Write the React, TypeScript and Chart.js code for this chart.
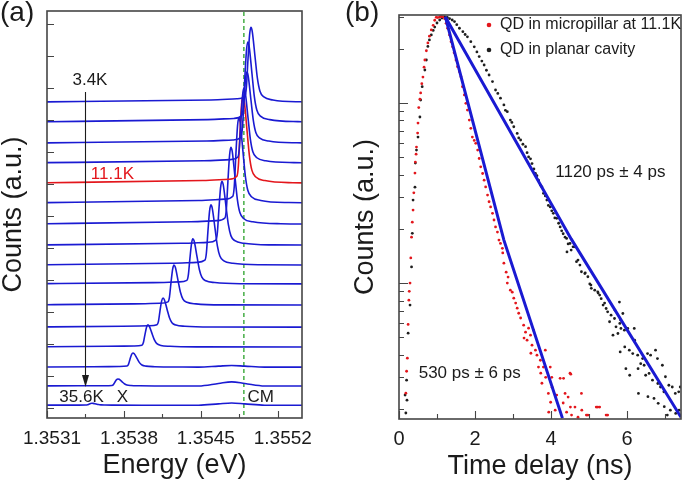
import React, { useEffect, useRef } from 'react';
import { Chart, registerables } from 'chart.js';

Chart.register(...registerables);

const FONT = "'Liberation Sans', Arial, Helvetica, sans-serif";
const INK = '#1b1b1b';
const FRAME = '#454545';
const BLUE = '#1a1ad2';
const RED = '#e3161c';
const GREEN = '#45ad45';

/* ---------------- Panel (a): PL spectra ---------------- */
const energyMin = 1.3531;
const energyMax = 1.35542;
const energyLabelValues = [1.3531, 1.3538, 1.3545, 1.3552];
const energyLabels = ['1.3531', '1.3538', '1.3545', '1.3552'];
const energyTickValues = [1.3531, 1.35345, 1.3538, 1.35415, 1.3545, 1.35485, 1.3552];
const levelTickValues = [0, 1, 2, 3, 4, 5, 6, 7, 8, 9, 10, 11, 12];
const levelMin = -0.31;
const levelMax = 12.41;
const cavityModeEnergy = 1.354891;
const cavityBumpCenter = 1.35478;

const spectrumBaselines = [9.56, 8.94, 8.28, 7.66, 7.03, 6.41, 5.75, 5.09, 4.47, 3.88, 3.22, 2.53, 1.91, 1.28, 0.69, 0.09];
const spectrumPeakEnergies = [
  1.354955, 1.354927, 1.354918, 1.354891, 1.354882, 1.354845, 1.354773, 1.354691,
  1.354591, 1.354427, 1.354255, 1.354155, 1.354018, 1.353882, 1.353745, 1.353509,
];
const spectrumPeakHeights = [2.34, 2.5, 2.22, 2.34, 2.72, 2.66, 2.4, 2.0, 1.88, 1.41, 1.25, 0.91, 0.69, 0.44, 0.22, 0.06];
const spectrumCavityBumps = [0, 0, 0, 0, 0, 0, 0, 0, 0, 0, 0, 0, 0, 0.05, 0.13, 0.07];
const highlightedSpectrum = 4; // 11.1 K

// line shape of one QD line (offset in eV, fraction of peak)
const peakShapeOffsets = [-0.000364, -0.000127, -0.0000545, -0.0000409, -0.0000273, -0.0000118, 0, 0.0000118, 0.0000382, 0.0000591, 0.0000818, 0.000118, 0.0002, 0.000455];
const peakShapeLevels = [0.03, 0.045, 0.08, 0.2, 0.55, 0.9, 1, 0.95, 0.6, 0.32, 0.15, 0.07, 0.03, 0.005];
const cavityShapeOffsets = [-0.0003, -0.00012, 0, 0.00012, 0.0003];
const cavityShapeLevels = [0, 0.6, 1, 0.6, 0];

const annotationTextsA = ['3.4K', '11.1K', '35.6K', 'X', 'CM'];
const annotationEnergiesA = [1.353491, 1.353695, 1.353414, 1.353786, 1.355045];
const annotationLevelsA = [10.23, 7.31, 0.33, 0.33, 0.33];
const annotationColorsA = [INK, RED, INK, INK, INK];
const arrowEnergy = 1.35345;
const arrowFrom = 9.875;
const arrowTo = 0.656;

/* ---------------- Panel (b): time-resolved PL ---------------- */
const timeMin = 0;
const timeMax = 7.42;
const countsMin = 176;
const countsMax = 30800;
const timeTickValues = [0, 1, 2, 3, 4, 5, 6, 7];
const timeLabelValues = [0, 2, 4, 6];
const timeLabels = ['0', '2', '4', '6'];
const logMajorTicks = [1000, 10000];
const logMinorTicks = [200, 300, 400, 500, 600, 700, 800, 900, 2000, 3000, 4000, 5000, 6000, 7000, 8000, 9000, 20000, 30000];

const pillarDecay: [number, number][] = [
  [0.18, 245], [0.2, 324], [0.22, 383], [0.24, 590], [0.26, 804], [0.27, 900], [0.29, 1000], [0.31, 1380],
  [0.33, 1800], [0.35, 2180], [0.37, 2545], [0.39, 3170], [0.42, 4080], [0.43, 4700], [0.45, 5200], [0.46, 5690],
  [0.49, 6810], [0.5, 7740], [0.52, 9430], [0.55, 10500], [0.57, 11370], [0.6, 12800], [0.63, 13930], [0.66, 15800],
  [0.68, 17330], [0.72, 19500], [0.76, 21550], [0.8, 23500], [0.85, 25450], [0.9, 27000], [0.94, 28800], [0.98, 29900],
  [1.02, 29800], [1.07, 30060], [1.11, 30200], [1.15, 30100], [1.2, 29400], [1.24, 27700], [1.28, 26000], [1.33, 23870],
  [1.37, 21900], [1.41, 20500], [1.45, 19000], [1.5, 17330], [1.54, 15900], [1.59, 14930], [1.63, 13990], [1.67, 12320],
  [1.72, 11080], [1.76, 9960], [1.8, 9140], [1.85, 8040], [1.89, 7230], [1.93, 6470], [1.98, 6200], [2.02, 5970],
  [2.07, 5480], [2.11, 4920], [2.15, 4420], [2.2, 4060], [2.24, 3730], [2.28, 3420], [2.33, 3080], [2.37, 2830],
  [2.41, 2650], [2.46, 2440], [2.5, 2240], [2.54, 2050], [2.59, 1920], [2.63, 1733], [2.67, 1660], [2.72, 1560],
  [2.73, 1470], [2.76, 1290], [2.82, 1150], [2.85, 1000], [2.87, 1080], [2.93, 914], [2.98, 890], [3.02, 825],
  [3.07, 775], [3.11, 726], [3.15, 680], [3.2, 640], [3.28, 584], [3.29, 495], [3.33, 534], [3.37, 482],
  [3.41, 562], [3.46, 514], [3.47, 408], [3.5, 452], [3.54, 548], [3.59, 424], [3.63, 398], [3.67, 342],
  [3.72, 373], [3.73, 316], [3.76, 278], [3.8, 342], [3.85, 424], [3.86, 300], [3.93, 244], [3.94, 192],
  [3.98, 342], [3.99, 218], [4.02, 300], [4.03, 264], [4.11, 197], [4.15, 239], [4.24, 296], [4.32, 216],
  [4.33, 296], [4.37, 244], [4.41, 192], [4.45, 233], [4.5, 316], [4.51, 205], [4.52, 312], [4.54, 185],
  [4.63, 205], [4.71, 180], [4.8, 244], [4.81, 197], [4.93, 185], [4.97, 185], [5.19, 205], [5.23, 205],
  [5.28, 205], [5.45, 185], [5.49, 185],
];

const planarDecay: [number, number][] = [
  [0.16, 239], [0.18, 190], [0.2, 289], [0.21, 224], [0.24, 527], [0.29, 755], [0.33, 1230], [0.35, 1890],
  [0.37, 2890], [0.42, 3410], [0.43, 4640], [0.46, 5480], [0.5, 6470], [0.55, 8360], [0.57, 10390], [0.61, 12320],
  [0.68, 15250], [0.72, 17330], [0.76, 20600], [0.8, 22400], [0.85, 23870], [0.9, 25300], [0.94, 26400], [1.0, 27800],
  [1.07, 28900], [1.13, 29600], [1.2, 30060], [1.27, 29900], [1.33, 29400], [1.4, 28900], [1.46, 28300], [1.52, 27200],
  [1.59, 26000], [1.68, 24900], [1.74, 24000], [1.8, 23300], [1.89, 21900], [1.98, 20500], [2.05, 19200], [2.11, 18100],
  [2.18, 17100], [2.24, 16250], [2.3, 15200], [2.37, 14300], [2.46, 13150], [2.54, 11810], [2.6, 11300], [2.67, 10630],
  [2.76, 9750], [2.8, 9100], [2.85, 8950], [2.93, 8040], [2.97, 7800], [3.02, 7380], [3.11, 6780], [3.15, 6400],
  [3.2, 6230], [3.26, 5900], [3.33, 5720], [3.37, 5300], [3.41, 5020], [3.46, 4900], [3.5, 4610], [3.55, 4300],
  [3.59, 4060], [3.63, 3950], [3.67, 3730], [3.72, 3500], [3.76, 3420], [3.8, 3150], [3.85, 3050], [3.89, 2890],
  [3.93, 2700], [3.98, 2650], [4.02, 2520], [4.06, 2440], [4.1, 2300], [4.15, 2290], [4.2, 2150], [4.24, 2050],
  [4.28, 1950], [4.32, 1880], [4.37, 1800], [4.41, 1770], [4.42, 1490], [4.45, 1650], [4.5, 1660], [4.53, 1525],
  [4.58, 1590], [4.63, 1590], [4.67, 1315], [4.71, 1342], [4.76, 1259], [4.8, 1156], [4.89, 1130], [4.9, 1140],
  [4.97, 1085], [5.02, 990], [5.05, 975], [5.06, 935], [5.15, 914], [5.23, 895], [5.24, 880], [5.28, 858],
  [5.32, 820], [5.37, 755], [5.41, 775], [5.45, 723], [5.49, 693], [5.54, 610], [5.58, 664], [5.63, 514],
  [5.67, 636], [5.68, 708], [5.71, 572], [5.76, 525], [5.8, 785], [5.81, 597], [5.82, 415], [5.83, 623],
  [5.84, 560], [5.89, 678], [5.93, 548], [5.94, 442], [5.97, 335], [6.02, 560], [6.06, 424], [6.07, 308],
  [6.15, 406], [6.19, 560], [6.2, 482], [6.28, 398], [6.29, 335], [6.3, 244], [6.36, 357], [6.41, 381],
  [6.45, 350], [6.49, 308], [6.54, 406], [6.55, 234], [6.58, 315], [6.62, 398], [6.67, 289], [6.71, 229],
  [6.75, 424], [6.8, 381], [6.81, 277], [6.82, 215], [6.88, 265], [6.93, 350], [6.97, 249], [6.98, 206],
  [7.01, 302], [7.06, 185], [7.1, 271], [7.14, 197], [7.19, 265], [7.27, 244], [7.28, 189], [7.36, 249],
  [7.37, 197], [7.4, 265],
];

const pillarFit: [number, number][] = [[1.22, 30060], [2.76, 1733], [4.3, 178]];
const planarFit: [number, number][] = [[1.22, 30060], [4.53, 1760], [7.42, 180]];

const legendTexts = ['QD in micropillar at 11.1K', 'QD in planar cavity'];
const legendColors = [RED, '#1e1e1e'];
const annotationTextsB = ['1120 ps \u00b1 4 ps', '530 ps \u00b1 6 ps'];
const annotationTimesB = [5.56, 1.86];
const annotationCountsB = [4140, 316];

/* ---------------- helpers ---------------- */
function buildSpectrum(i: number) {
  const base = spectrumBaselines[i];
  const e0 = spectrumPeakEnergies[i];
  const h = spectrumPeakHeights[i];
  const pts: { x: number; y: number }[] = [{ x: 1.3528, y: base }];
  peakShapeOffsets.forEach((d, k) => pts.push({ x: e0 + d, y: base + h * peakShapeLevels[k] }));
  const b = spectrumCavityBumps[i];
  if (b > 0) {
    cavityShapeOffsets.forEach((d, k) => pts.push({ x: cavityBumpCenter + d, y: base + b * cavityShapeLevels[k] }));
  }
  pts.push({ x: 1.3558, y: base });
  pts.sort((a, c) => a.x - c.x);
  return pts;
}

function txt(ctx: CanvasRenderingContext2D, s: string, x: number, y: number, size: number, color: string, align: CanvasTextAlign = 'center', baseline: CanvasTextBaseline = 'middle') {
  ctx.font = `${size}px ${FONT}`;
  ctx.fillStyle = color;
  ctx.textAlign = align;
  ctx.textBaseline = baseline;
  ctx.fillText(s, x, y);
}

const panelAOverlay = {
  id: 'panelAOverlay',
  afterDraw(chart: any) {
    const { ctx, chartArea: a, scales } = chart;
    const xs = scales.x;
    const ys = scales.y;
    ctx.save();
    ctx.strokeStyle = FRAME;
    ctx.lineWidth = 1.6;
    ctx.strokeRect(a.left, a.top, a.right - a.left, a.bottom - a.top);
    ctx.lineWidth = 1.1;
    ctx.beginPath();
    energyTickValues.forEach((v) => {
      const px = Math.round(xs.getPixelForValue(v)) + 0.5;
      const major = energyLabelValues.some((l) => Math.abs(l - v) < 1e-9);
      ctx.moveTo(px, a.bottom);
      ctx.lineTo(px, a.bottom - (major ? 7 : 4));
    });
    levelTickValues.forEach((v) => {
      const py = Math.round(ys.getPixelForValue(v)) + 0.5;
      ctx.moveTo(a.left, py);
      ctx.lineTo(a.left + 7, py);
    });
    ctx.stroke();
    // arrow 3.4K -> 35.6K
    const ax = Math.round(xs.getPixelForValue(arrowEnergy)) + 0.5;
    const ay0 = ys.getPixelForValue(arrowFrom);
    const ay1 = ys.getPixelForValue(arrowTo);
    ctx.strokeStyle = INK;
    ctx.lineWidth = 1.1;
    ctx.beginPath();
    ctx.moveTo(ax, ay0);
    ctx.lineTo(ax, ay1 - 8);
    ctx.stroke();
    ctx.fillStyle = INK;
    ctx.beginPath();
    ctx.moveTo(ax, ay1);
    ctx.lineTo(ax - 3.5, ay1 - 12);
    ctx.lineTo(ax + 3.5, ay1 - 12);
    ctx.closePath();
    ctx.fill();
    annotationTextsA.forEach((s, i) => {
      txt(ctx, s, xs.getPixelForValue(annotationEnergiesA[i]), ys.getPixelForValue(annotationLevelsA[i]), 17, annotationColorsA[i]);
    });
    txt(ctx, '(a)', 0, 21, 28, INK, 'left', 'alphabetic');
    ctx.restore();
  },
};

const panelBOverlay = {
  id: 'panelBOverlay',
  afterDraw(chart: any) {
    const { ctx, chartArea: a, scales } = chart;
    const xs = scales.x;
    const ys = scales.y;
    ctx.save();
    ctx.strokeStyle = FRAME;
    ctx.lineWidth = 1.6;
    ctx.strokeRect(a.left, a.top, a.right - a.left, a.bottom - a.top);
    ctx.lineWidth = 1.1;
    ctx.beginPath();
    timeTickValues.forEach((v) => {
      const px = Math.round(xs.getPixelForValue(v)) + 0.5;
      const major = timeLabelValues.includes(v);
      ctx.moveTo(px, a.bottom);
      ctx.lineTo(px, a.bottom - (major ? 8 : 5));
    });
    logMajorTicks.forEach((v) => {
      const py = Math.round(ys.getPixelForValue(v)) + 0.5;
      ctx.moveTo(a.left, py);
      ctx.lineTo(a.left + 9, py);
    });
    logMinorTicks.forEach((v) => {
      const py = Math.round(ys.getPixelForValue(v)) + 0.5;
      ctx.moveTo(a.left, py);
      ctx.lineTo(a.left + 5, py);
    });
    ctx.stroke();
    legendTexts.forEach((s, i) => {
      const y = a.top + 10 + i * 25;
      ctx.fillStyle = legendColors[i];
      ctx.beginPath();
      ctx.arc(a.left + 90, y, 2.3, 0, Math.PI * 2);
      ctx.fill();
      txt(ctx, s, a.left + 101, y, 16, INK, 'left');
    });
    annotationTextsB.forEach((s, i) => {
      txt(ctx, s, xs.getPixelForValue(annotationTimesB[i]), ys.getPixelForValue(annotationCountsB[i]), 17, INK);
    });
    txt(ctx, '(b)', 5, 21, 28, INK, 'left', 'alphabetic');
    ctx.restore();
  },
};

function makePanelA(canvas: HTMLCanvasElement) {
  const datasets: any[] = spectrumBaselines.map((_, i) => ({
    data: buildSpectrum(i),
    borderColor: i === highlightedSpectrum ? RED : BLUE,
    borderWidth: 1.6,
    pointRadius: 0,
    cubicInterpolationMode: 'monotone',
    fill: false,
  }));
  datasets.push({
    data: [{ x: cavityModeEnergy, y: levelMin - 1 }, { x: cavityModeEnergy, y: levelMax + 1 }],
    borderColor: GREEN,
    borderWidth: 1.5,
    borderDash: [4, 3],
    pointRadius: 0,
    fill: false,
  });
  return new Chart(canvas, {
    type: 'line',
    data: { datasets },
    options: {
      animation: false,
      responsive: false,
      devicePixelRatio: 1,
      layout: { padding: { top: 11, right: 38, left: 0, bottom: 0 } },
      plugins: { legend: { display: false }, tooltip: { enabled: false } },
      scales: {
        x: {
          type: 'linear',
          min: energyMin,
          max: energyMax,
          grid: { display: false, drawTicks: false },
          border: { display: false },
          afterBuildTicks: (s: any) => {
            s.ticks = energyLabelValues.map((v) => ({ value: v }));
          },
          afterFit: (s: any) => {
            s.height = 63;
          },
          ticks: {
            autoSkip: false,
            maxRotation: 0,
            padding: 9,
            labelOffset: 5,
            color: INK,
            font: { size: 19, family: FONT },
            callback: (_v: any, i: number) => energyLabels[i],
          },
          title: {
            display: true,
            text: 'Energy (eV)',
            color: INK,
            font: { size: 27, family: FONT, lineHeight: 1 },
            padding: { top: 0, bottom: 2 },
          },
        },
        y: {
          type: 'linear',
          min: levelMin,
          max: levelMax,
          grid: { display: false, drawTicks: false },
          border: { display: false },
          ticks: { display: false },
          afterFit: (s: any) => {
            s.width = 47;
          },
          title: {
            display: true,
            text: 'Counts (a.u.)',
            color: INK,
            font: { size: 27, family: FONT, lineHeight: 1 },
            padding: { top: 0.5, bottom: 0 },
          },
        },
      },
    } as any,
    plugins: [panelAOverlay],
  });
}

function makePanelB(canvas: HTMLCanvasElement) {
  const toPts = (arr: [number, number][]) => arr.map(([x, y]) => ({ x, y }));
  return new Chart(canvas, {
    type: 'scatter',
    data: {
      datasets: [
        { data: toPts(pillarFit), showLine: true, borderColor: BLUE, borderWidth: 3, pointRadius: 0 },
        { data: toPts(planarFit), showLine: true, borderColor: BLUE, borderWidth: 3, pointRadius: 0 },
        { data: toPts(pillarDecay), showLine: false, pointRadius: 1.4, pointBorderWidth: 0, pointBackgroundColor: RED, backgroundColor: RED, borderColor: RED },
        { data: toPts(planarDecay), showLine: false, pointRadius: 1.4, pointBorderWidth: 0, pointBackgroundColor: '#1e1e1e', backgroundColor: '#1e1e1e', borderColor: '#1e1e1e' },
      ],
    },
    options: {
      animation: false,
      responsive: false,
      devicePixelRatio: 1,
      layout: { padding: { top: 15, right: 1, left: 0, bottom: 0 } },
      plugins: { legend: { display: false }, tooltip: { enabled: false } },
      scales: {
        x: {
          type: 'linear',
          min: timeMin,
          max: timeMax,
          grid: { display: false, drawTicks: false },
          border: { display: false },
          afterBuildTicks: (s: any) => {
            s.ticks = timeLabelValues.map((v) => ({ value: v }));
          },
          afterFit: (s: any) => {
            s.height = 62;
          },
          ticks: {
            autoSkip: false,
            maxRotation: 0,
            padding: 8,
            color: INK,
            font: { size: 20, family: FONT },
            callback: (_v: any, i: number) => timeLabels[i],
          },
          title: {
            display: true,
            text: 'Time delay (ns)',
            color: INK,
            font: { size: 27, family: FONT, lineHeight: 1 },
            padding: { top: 0, bottom: 1 },
          },
        },
        y: {
          type: 'logarithmic',
          min: countsMin,
          max: countsMax,
          grid: { display: false, drawTicks: false },
          border: { display: false },
          ticks: { display: false },
          afterFit: (s: any) => {
            s.width = 59;
          },
          title: {
            display: true,
            text: 'Counts (a.u.)',
            color: INK,
            font: { size: 27, family: FONT, lineHeight: 1 },
            padding: { top: 12.3, bottom: 0 },
          },
        },
      },
    } as any,
    plugins: [panelBOverlay],
  });
}

export default function App() {
  const refA = useRef<HTMLCanvasElement | null>(null);
  const refB = useRef<HTMLCanvasElement | null>(null);
  useEffect(() => {
    const a = refA.current ? makePanelA(refA.current) : null;
    const b = refB.current ? makePanelB(refB.current) : null;
    return () => {
      a?.destroy();
      b?.destroy();
    };
  }, []);
  return (
    <div style={{ position: 'absolute', left: 0, top: 0, width: 685, height: 481, background: '#fff' }}>
      <canvas ref={refA} width={340} height={481} style={{ position: 'absolute', left: 0, top: 0, width: 340, height: 481 }} />
      <canvas ref={refB} width={345} height={481} style={{ position: 'absolute', left: 340, top: 0, width: 345, height: 481 }} />
    </div>
  );
}
